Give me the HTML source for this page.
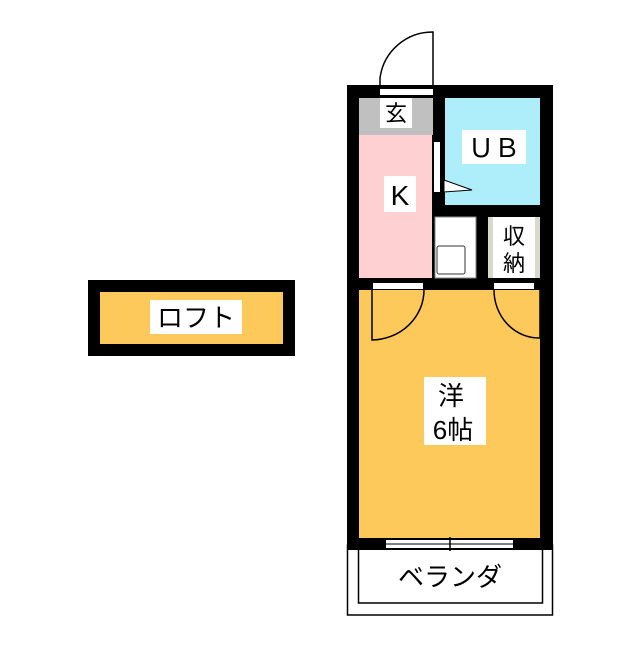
<!DOCTYPE html>
<html><head><meta charset="utf-8"><style>
body{margin:0;width:640px;height:640px;background:#fff;overflow:hidden}
svg text{font-family:"Liberation Sans","Noto Sans CJK JP",sans-serif}
</style></head><body>
<svg width="640" height="640" viewBox="0 0 640 640" xmlns="http://www.w3.org/2000/svg">
<!-- loft -->
<rect x="88" y="280" width="207" height="76" fill="#000"/>
<rect x="100" y="292" width="183" height="52" fill="#fdc95a"/>
<rect x="150" y="300" width="92" height="34" fill="#fff"/>
<text x="196" y="327" font-size="26" text-anchor="middle">ロフト</text>
<!-- entrance door -->
<path d="M380 85 L380 78 A53 53 0 0 1 433 32 L433 85" fill="none" stroke="#000" stroke-width="1.5"/>
<!-- balcony -->
<rect x="347.5" y="545" width="205" height="70" fill="#fff" stroke="#000" stroke-width="1.5"/>
<rect x="358.5" y="545" width="184" height="58" fill="#fff" stroke="#000" stroke-width="1.5"/>
<!-- main building -->
<rect x="347" y="85" width="206" height="465" fill="#000"/>
<rect x="359" y="98" width="74" height="37" fill="#c0c0c0"/>
<rect x="359" y="135" width="73" height="143" fill="#ffd0d2"/>
<rect x="445" y="98" width="95" height="107" fill="#aeeefb"/>
<rect x="435" y="217" width="41" height="61" fill="#fff" stroke="#888" stroke-width="1"/>
<rect x="437" y="246" width="28" height="28" fill="#fff" stroke="#333" stroke-width="1" rx="2"/>
<rect x="488" y="217" width="52" height="61" fill="#d8d8cc"/>
<rect x="493" y="217" width="42" height="61" fill="#fff"/>
<rect x="359" y="290" width="181" height="248" fill="#fdc95a"/>
<!-- openings -->
<rect x="380" y="89" width="53" height="6" fill="#fff"/>
<rect x="434" y="142" width="6" height="50" fill="#fff"/>
<path d="M444 180 L472 190 L444 192 Z" fill="#fff" stroke="#000"/>
<rect x="373" y="283" width="50" height="6" fill="#fff"/>
<rect x="494" y="283" width="40" height="6" fill="#fff"/>
<path d="M372 290 L372 340 A53 50 0 0 0 424 290" fill="none" stroke="#000" stroke-width="1.5"/>
<path d="M540 290 L540 338 A45 48 0 0 1 494 290" fill="none" stroke="#000" stroke-width="1.5"/>
<rect x="386" y="540" width="127" height="8" fill="#fff"/>
<line x1="386" y1="544" x2="513" y2="544" stroke="#000" stroke-width="1"/>
<line x1="450" y1="537" x2="450" y2="551" stroke="#000" stroke-width="1.5"/>
<!-- labels -->
<rect x="380" y="98" width="32" height="30" fill="#fff"/>
<text x="396" y="121" font-size="22" text-anchor="middle">玄</text>
<rect x="462" y="130" width="64" height="34" fill="#fff"/>
<text x="494" y="157" font-size="26" text-anchor="middle">ＵＢ</text>
<rect x="384" y="176" width="32" height="36" fill="#fff"/>
<text x="400" y="205" font-size="28" text-anchor="middle">K</text>
<text x="514" y="244" font-size="22" text-anchor="middle">収</text>
<text x="514" y="271" font-size="22" text-anchor="middle">納</text>
<rect x="424" y="377" width="62" height="68" fill="#fff"/>
<text x="451" y="405" font-size="26" text-anchor="middle">洋</text>
<text x="453" y="439" font-size="26" text-anchor="middle">6帖</text>
<text x="450" y="586" font-size="26" text-anchor="middle">ベランダ</text>
</svg>
</body></html>
